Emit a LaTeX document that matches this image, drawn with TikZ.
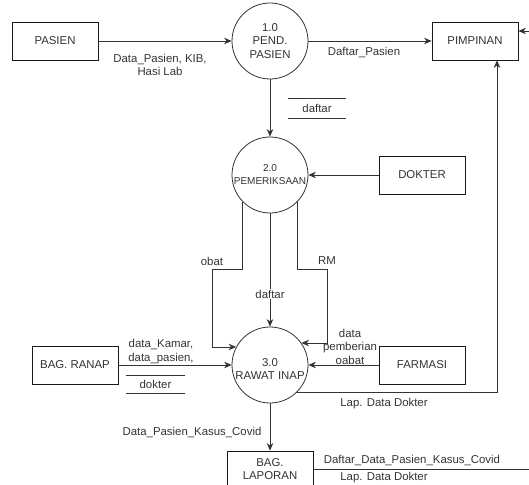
\documentclass[tikz,border=0pt]{standalone}
\usepackage{fontspec}
\setmainfont{Liberation Sans}
\usetikzlibrary{positioning,arrows.meta}

\begin{document}
\begin{tikzpicture}[
			x=1pt, y=-1pt
			,every node/.append style={font=\fontsize{11.4}{13.5}\selectfont, text=black!80}
			,proc/.style={circle, draw=black!80, line width=0.8pt, minimum size=76pt, inner sep=0pt, align=center}
			,ent/.style={draw=black!90, line width=0.8pt, minimum width=86pt, minimum height=38pt, align=center}
			,store/.style={minimum width=58pt, minimum height=20pt, inner sep=0pt}
			,lbl/.style={align=center, inner sep=0pt}
			,flow/.style={draw=black!80, line width=0.8pt, -{Stealth[length=7.5pt,width=6.5pt]}}
		]
			\useasboundingbox (0,0) rectangle (529,484);
			\clip (0,0) rectangle (529,484);

			\node [ent] (pasien) at (55,41) {PASIEN};
			\node [proc] (p1) at (270,41) {1.0\\PEND.\\PASIEN};
			\node [ent] (pimpinan) at (475,41) {PIMPINAN};
			\node [store] (ds1) at (317,108.5) {daftar};
			\node [proc, font=\fontsize{10}{13}\selectfont] (p2) at (270,175) {2.0\\PEMERIKSAAN};
			\node [ent] (dokter) at (422,175) {DOKTER};
			\node [proc] (p3) at (270,365) {\raisebox{-4pt}[\height][\depth]{3.0}\\\raisebox{-4pt}[\height][\depth]{RAWAT INAP}};
			\node [ent] (ranap) at (75,365) {BAG. RANAP};
			\node [ent] (farmasi) at (422,365) {FARMASI};
			\node [store, minimum height=17pt] (ds2) at (155.5,384.5) {dokter};
			\node [ent, minimum height=36pt] (laporan) at (270,469) {BAG.\\LAPORAN};

			\foreach \s in {ds1,ds2}
				\draw [black!80, line width=0.8pt] (\s.north west) -- (\s.north east) (\s.south west) -- (\s.south east);

			\draw [flow] (pasien) -- (p1);
			\draw [flow] (p1) -- (pimpinan);
			\draw [flow] (p1) -- (p2);
			\draw [flow] (dokter) -- (p2);
			\draw [flow] (p2.225) |- (212,269) |- (p3.152);
			\draw [flow] (p2.315) |- (327,269) |- (p3.35);
			\draw [flow] (p2) -- (p3);
			\draw [flow] (ranap) -- (p3);
			\draw [flow] (farmasi) -- (p3);
			\draw [flow] (p3.315) -| ([xshift=22pt]pimpinan.south);
			\draw [flow] (p3) -- (laporan);
			\draw [flow] (laporan.east) -- ++(240,0) |- ([yshift=10pt]pimpinan.east);

			\node [lbl] (l-pasien) at (160,65) {Data\_Pasien, KIB,\\Hasi Lab};
			\node [lbl] (l-daftarpasien) at (364,53) {Daftar\_Pasien};
			\node [lbl] (l-obat) at (212,261) {obat};
			\node [lbl, fill=white, inner sep=1pt] (l-daftar) at (270,294) {daftar};
			\node [lbl] (l-rm) at (327,261) {RM};
			\node [lbl] (l-kamar) at (161,351.5) {data\_Kamar,\\data\_pasien,};
			\node [lbl] (l-pemberian) at (350,346.5) {data\\pemberian\\oabat};
			\node [lbl] (l-covid) at (192,432) {Data\_Pasien\_Kasus\_Covid};
			\node [lbl] (l-lapdok) at (384,404) {Lap. Data Dokter};
			\node [lbl] (l-daftarcovid) at (412,460) {Daftar\_Data\_Pasien\_Kasus\_Covid};
			\node [lbl] (l-lapdok2) at (384,478) {Lap. Data Dokter};
		\end{tikzpicture}
\end{document}
